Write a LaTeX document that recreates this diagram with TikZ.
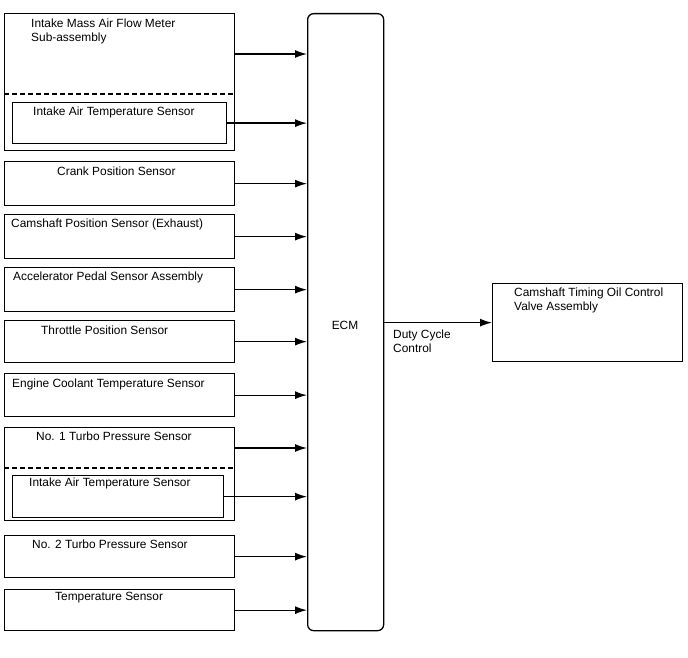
\documentclass[tikz,border=0pt]{standalone}
\usepackage{fontspec}
\setmainfont{Liberation Sans}
\usetikzlibrary{arrows.meta,positioning}

\begin{document}
\begin{tikzpicture}[x=1pt,y=-1pt,font=\fontsize{11.9}{14}\selectfont,
    box/.style={draw,line width=1.3pt,inner sep=0pt,anchor=north west},
    lbl/.style={anchor=west,inner sep=0pt,align=left},
    sig/.style={line width=1.3pt,-{Latex[length=12pt,width=8pt]}}]
  \useasboundingbox (0,0) rectangle (688,658);
  % ECM
  \node[box,rounded corners=6pt,minimum width=76pt,minimum height=617pt] (ecm) at (307,13) {};
  \node (ecmtext) at (345,325) {ECM};
  % mass air flow meter with intake air temperature sensor
  \node[box,minimum width=230pt,minimum height=137pt] (maf) at (4,13) {};
  \draw[line width=1.3pt,dash pattern=on 5pt off 3pt] (4,94) -- (234,94);
  \node[box,minimum width=214pt,minimum height=41pt] (iata) at (12,102) {};
  \node[lbl] (maftext) at (31,31) {Intake Mass Air Flow Meter\\Sub-assembly};
  \node[lbl] (iatatext) at (33,112) {Intake Air Temperature Sensor};
  \coordinate (mafout) at (234,54);
  % single sensors
  \node[box,minimum width=230pt,minimum height=44pt] (crank) at (4,161) {};
  \node[lbl] (cranktext) at (57,171) {Crank Position Sensor};
  \node[box,minimum width=230pt,minimum height=44pt] (cam) at (4,214) {};
  \node[lbl] (camtext) at (11,224) {Camshaft Position Sensor (Exhaust)};
  \node[box,minimum width=230pt,minimum height=44pt] (app) at (4,267) {};
  \node[lbl] (apptext) at (13,277) {Accelerator Pedal Sensor Assembly};
  \node[box,minimum width=230pt,minimum height=42pt] (tps) at (4,320) {};
  \node[lbl] (tpstext) at (41,330) {Throttle Position Sensor};
  \node[box,minimum width=230pt,minimum height=43pt] (ect) at (4,373) {};
  \node[lbl] (ecttext) at (12,384) {Engine Coolant Temperature Sensor};
  % turbo pressure sensor with intake air temperature sensor
  \node[box,minimum width=230pt,minimum height=93pt] (turboa) at (4,427) {};
  \draw[line width=1.3pt,dash pattern=on 5pt off 3pt] (4,468) -- (234,468);
  \node[box,minimum width=211pt,minimum height=42pt] (iatb) at (12,475) {};
  \node[lbl] (turboatext) at (36,436) {No. 1 Turbo Pressure Sensor};
  \node[lbl] (iatbtext) at (29,483) {Intake Air Temperature Sensor};
  \coordinate (turboaout) at (234,448);
  \node[box,minimum width=230pt,minimum height=42pt] (turbob) at (4,535) {};
  \node[lbl] (turbobtext) at (32,544) {No. 2 Turbo Pressure Sensor};
  \node[box,minimum width=230pt,minimum height=41pt] (temp) at (4,589) {};
  \node[lbl] (temptext) at (55,598) {Temperature Sensor};
  % actuator
  \node[box,minimum width=190pt,minimum height=78pt] (ocv) at (492,283) {};
  \node[lbl] (ocvtext) at (514,300) {Camshaft Timing Oil Control\\Valve Assembly};
  % signals
  \draw[sig] (mafout) -- (mafout -| ecm.west);
  \draw[sig] (iata.east) -- (iata.east -| ecm.west);
  \draw[sig] (crank.east) -- (crank.east -| ecm.west);
  \draw[sig] (cam.east) -- (cam.east -| ecm.west);
  \draw[sig] (app.east) -- (app.east -| ecm.west);
  \draw[sig] (tps.east) -- (tps.east -| ecm.west);
  \draw[sig] (ect.east) -- (ect.east -| ecm.west);
  \draw[sig] (turboaout) -- (turboaout -| ecm.west);
  \draw[sig] (iatb.east) -- (iatb.east -| ecm.west);
  \draw[sig] (turbob.east) -- (turbob.east -| ecm.west);
  \draw[sig] (temp.east) -- (temp.east -| ecm.west);
  \draw[sig] (ocv.west -| ecm.east) -- (ocv.west);
  \node[lbl] (duty) at (393,341) {Duty Cycle\\Control};
\end{tikzpicture}
\end{document}
